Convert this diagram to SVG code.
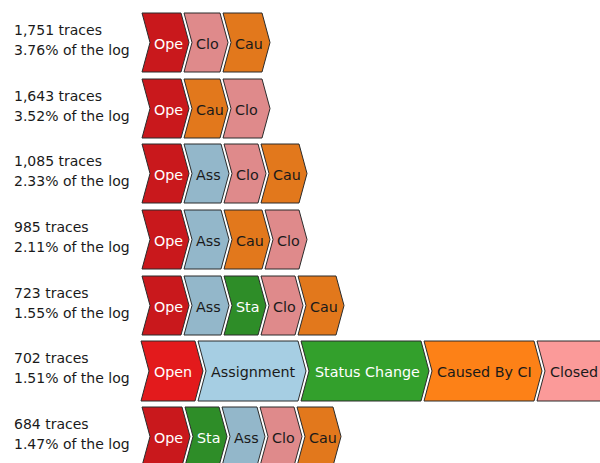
<svg xmlns="http://www.w3.org/2000/svg" width="600" height="463" viewBox="0 0 600 463">
  <style>
    .lbl { font-family: "DejaVu Sans", "Liberation Sans", sans-serif; font-size: 14px; fill: #1a1a1a; }
    .chv { stroke: #2b2b2b; stroke-width: 1; stroke-linejoin: miter; }
    .t { font-family: "DejaVu Sans", "Liberation Sans", sans-serif; font-size: 14.3px; }
    .lt { fill: #ffffff; }
    .dk { fill: #1a1a1a; }
    /* muted palette for short variant rows */
    .ope { fill: #c9181c; }
    .ass { fill: #93b7ca; }
    .sta { fill: #2e8d28; }
    .clo { fill: #df8a8b; }
    .cau { fill: #e2781c; }
    /* full palette for the expanded row */
    .open { fill: #e31a1c; }
    .assign { fill: #a6cee3; }
    .status { fill: #33a02c; }
    .caused { fill: #fd8117; }
    .closed { fill: #fb9a99; }
  </style>

  <!-- Row labels -->
  <g id="labels">
    <text class="lbl" x="14" y="35">1,751 traces</text>
    <text class="lbl" x="14" y="55">3.76% of the log</text>
    <text class="lbl" x="14" y="101">1,643 traces</text>
    <text class="lbl" x="14" y="121">3.52% of the log</text>
    <text class="lbl" x="14" y="166">1,085 traces</text>
    <text class="lbl" x="14" y="186">2.33% of the log</text>
    <text class="lbl" x="14" y="232">985 traces</text>
    <text class="lbl" x="14" y="252">2.11% of the log</text>
    <text class="lbl" x="14" y="298">723 traces</text>
    <text class="lbl" x="14" y="318">1.55% of the log</text>
    <text class="lbl" x="14" y="363">702 traces</text>
    <text class="lbl" x="14" y="383">1.51% of the log</text>
    <text class="lbl" x="14" y="429">684 traces</text>
    <text class="lbl" x="14" y="449">1.47% of the log</text>
  </g>

  <!-- Row 1: y=13, h=59 -->
  <g id="row1" transform="translate(0,13)">
    <g id="r1-ope"><polygon class="chv ope" points="142,0 181,0 189,29.5 181,59 142,59 150,29.5"/><text class="t lt" x="154" y="35.5">Ope</text></g>
    <g id="r1-clo"><polygon class="chv clo" points="184,0 220,0 228,29.5 220,59 184,59 192,29.5"/><text class="t dk" x="196" y="35.5">Clo</text></g>
    <g id="r1-cau"><polygon class="chv cau" points="223,0 262,0 270,29.5 262,59 223,59 231,29.5"/><text class="t dk" x="235" y="35.5">Cau</text></g>
  </g>

  <!-- Row 2 -->
  <g id="row2" transform="translate(0,79)">
    <g id="r2-ope"><polygon class="chv ope" points="142,0 181,0 189,29.5 181,59 142,59 150,29.5"/><text class="t lt" x="154" y="35.5">Ope</text></g>
    <g id="r2-cau"><polygon class="chv cau" points="184,0 220,0 228,29.5 220,59 184,59 192,29.5"/><text class="t dk" x="196" y="35.5">Cau</text></g>
    <g id="r2-clo"><polygon class="chv clo" points="223,0 262,0 270,29.5 262,59 223,59 231,29.5"/><text class="t dk" x="235" y="35.5">Clo</text></g>
  </g>

  <!-- Row 3 -->
  <g id="row3" transform="translate(0,144)">
    <g id="r3-ope"><polygon class="chv ope" points="142,0 181,0 189,29.5 181,59 142,59 150,29.5"/><text class="t lt" x="154" y="35.5">Ope</text></g>
    <g id="r3-ass"><polygon class="chv ass" points="184,0 221,0 229,29.5 221,59 184,59 192,29.5"/><text class="t dk" x="196" y="35.5">Ass</text></g>
    <g id="r3-clo"><polygon class="chv clo" points="224,0 258,0 266,29.5 258,59 224,59 232,29.5"/><text class="t dk" x="236" y="35.5">Clo</text></g>
    <g id="r3-cau"><polygon class="chv cau" points="261,0 299,0 307,29.5 299,59 261,59 269,29.5"/><text class="t dk" x="273" y="35.5">Cau</text></g>
  </g>

  <!-- Row 4 -->
  <g id="row4" transform="translate(0,210)">
    <g id="r4-ope"><polygon class="chv ope" points="142,0 181,0 189,29.5 181,59 142,59 150,29.5"/><text class="t lt" x="154" y="35.5">Ope</text></g>
    <g id="r4-ass"><polygon class="chv ass" points="184,0 221,0 229,29.5 221,59 184,59 192,29.5"/><text class="t dk" x="196" y="35.5">Ass</text></g>
    <g id="r4-cau"><polygon class="chv cau" points="224,0 262,0 270,29.5 262,59 224,59 232,29.5"/><text class="t dk" x="236" y="35.5">Cau</text></g>
    <g id="r4-clo"><polygon class="chv clo" points="265,0 299,0 307,29.5 299,59 265,59 273,29.5"/><text class="t dk" x="277" y="35.5">Clo</text></g>
  </g>

  <!-- Row 5 -->
  <g id="row5" transform="translate(0,276)">
    <g id="r5-ope"><polygon class="chv ope" points="142,0 181,0 189,29.5 181,59 142,59 150,29.5"/><text class="t lt" x="154" y="35.5">Ope</text></g>
    <g id="r5-ass"><polygon class="chv ass" points="184,0 221,0 229,29.5 221,59 184,59 192,29.5"/><text class="t dk" x="196" y="35.5">Ass</text></g>
    <g id="r5-sta"><polygon class="chv sta" points="224,0 258,0 266,29.5 258,59 224,59 232,29.5"/><text class="t lt" x="236" y="35.5">Sta</text></g>
    <g id="r5-clo"><polygon class="chv clo" points="261,0 295,0 303,29.5 295,59 261,59 269,29.5"/><text class="t dk" x="273" y="35.5">Clo</text></g>
    <g id="r5-cau"><polygon class="chv cau" points="298,0 336,0 344,29.5 336,59 298,59 306,29.5"/><text class="t dk" x="310" y="35.5">Cau</text></g>
  </g>

  <!-- Row 6: full activity names -->
  <g id="row6" transform="translate(0,341)">
    <g id="r6-open"><polygon class="chv open" points="141,0 195,0 203,30 195,60 141,60 149,30"/><text class="t lt" x="154" y="36">Open</text></g>
    <g id="r6-assignment"><polygon class="chv assign" points="198,0 298,0 306,30 298,60 198,60 206,30"/><text class="t dk" x="211" y="36">Assignment</text></g>
    <g id="r6-status"><polygon class="chv status" points="301,0 421,0 429,30 421,60 301,60 309,30"/><text class="t lt" x="315" y="36">Status Change</text></g>
    <g id="r6-caused"><polygon class="chv caused" points="424,0 534,0 542,30 534,60 424,60 432,30"/><text class="t dk" x="437" y="36">Caused By CI</text></g>
    <g id="r6-closed"><polygon class="chv closed" points="537,0 610,0 618,30 610,60 537,60 545,30"/><text class="t dk" x="550" y="36">Closed</text></g>
  </g>

  <!-- Row 7 -->
  <g id="row7" transform="translate(0,407)">
    <g id="r7-ope"><polygon class="chv ope" points="142,0 182,0 190,29.5 182,59 142,59 150,29.5"/><text class="t lt" x="154" y="35.5">Ope</text></g>
    <g id="r7-sta"><polygon class="chv sta" points="185,0 219,0 227,29.5 219,59 185,59 193,29.5"/><text class="t lt" x="197" y="35.5">Sta</text></g>
    <g id="r7-ass"><polygon class="chv ass" points="222,0 257,0 265,29.5 257,59 222,59 230,29.5"/><text class="t dk" x="234" y="35.5">Ass</text></g>
    <g id="r7-clo"><polygon class="chv clo" points="260,0 294,0 302,29.5 294,59 260,59 268,29.5"/><text class="t dk" x="272" y="35.5">Clo</text></g>
    <g id="r7-cau"><polygon class="chv cau" points="297,0 333,0 341,29.5 333,59 297,59 305,29.5"/><text class="t dk" x="309" y="35.5">Cau</text></g>
  </g>
</svg>
